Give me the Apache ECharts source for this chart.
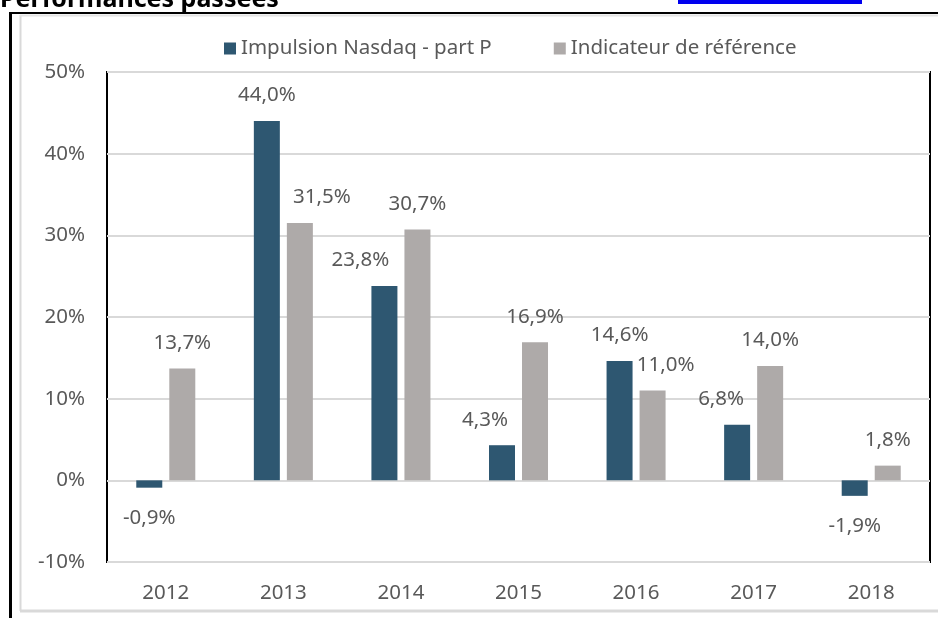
<!DOCTYPE html>
<html>
<head>
<meta charset="utf-8">
<title>Performances passées</title>
<script src="https://cdn.jsdelivr.net/npm/echarts@6/dist/echarts.min.js"></script>
<style>
  html, body { margin: 0; padding: 0; background: #fff; }
  #chart { width: 938px; height: 618px; }
</style>
</head>
<body>
<div id="chart"></div>
<script>
// valeurs (en %)
const years = ["2012", "2013", "2014", "2015", "2016", "2017", "2018"];
const impulsionP = [-0.9, 44.0, 23.8, 4.3, 14.6, 6.8, -1.9];
const indicateur = [13.7, 31.5, 30.7, 16.9, 11.0, 14.0, 1.8];
const yTicks = [-10, 0, 10, 20, 30, 40, 50];

// petits décalages horizontaux des étiquettes (déplacées à la main dans l'original)
const nudgeP = [0, 0, -24, -17, 0, -16, 0];
const nudgeRef = [0, 22, 0, 0, 13, 0, 0];

const FONT = "Noto Sans";
const TXT = "#595959";
const FS = 20.5;

function pct(v) {
  return v.toFixed(1).replace(".", ",") + "%";
}

function items(values, nudge) {
  return values.map((v, i) => ({
    value: v,
    label: {
      position: v < 0 ? "bottom" : "top",
      distance: v < 0 ? 20 : 15,
      offset: [nudge[i], 0],
    },
  }));
}

const chart = echarts.init(document.getElementById("chart"));

const option = {
  animation: false,
  textStyle: { fontFamily: FONT },
  graphic: [
    // cadre noir de la page
    { type: "line", shape: { x1: 10, y1: 13, x2: 938, y2: 13 }, style: { stroke: "#000", lineWidth: 2 } },
    { type: "line", shape: { x1: 10.5, y1: 12, x2: 10.5, y2: 618 }, style: { stroke: "#000", lineWidth: 3 } },
    // bordure grise de la zone du graphique
    { type: "line", shape: { x1: 20.5, y1: 15, x2: 20.5, y2: 611 }, style: { stroke: "#d9d9d9", lineWidth: 2 } },
    { type: "line", shape: { x1: 20, y1: 15.5, x2: 938, y2: 15.5 }, style: { stroke: "#e4e4e4", lineWidth: 2 } },
    { type: "line", shape: { x1: 20, y1: 611, x2: 938, y2: 611 }, style: { stroke: "#d9d9d9", lineWidth: 3 } },
    // titre coupé en haut
    {
      type: "text",
      left: 0,
      top: -13,
      style: {
        text: "Performances passées",
        font: "bold 25px '" + FONT + "'",
        fill: "#000",
      },
    },
    // lien bleu coupé
    { type: "rect", shape: { x: 678, y: 0, width: 184, height: 4 }, style: { fill: "#0000ee" } },
  ],
  legend: {
    left: 224,
    top: 38,
    padding: 0,
    icon: "rect",
    itemWidth: 12,
    itemHeight: 12,
    itemGap: 62,
    textStyle: { color: TXT, fontSize: FS, fontFamily: FONT },
  },
  grid: {
    left: 107,
    right: 8,
    top: 72,
    bottom: 56,
    show: true,
    borderColor: "#000",
    borderWidth: 2,
    backgroundColor: "transparent",
  },
  xAxis: {
    type: "category",
    data: years,
    axisLine: { show: false, onZero: false },
    axisTick: { show: false },
    axisLabel: { color: TXT, fontSize: FS, fontFamily: FONT, margin: 21 },
  },
  yAxis: {
    type: "value",
    min: yTicks[0],
    max: yTicks[yTicks.length - 1],
    interval: 10,
    axisLine: { show: false },
    axisTick: { show: false },
    axisLabel: {
      color: TXT,
      fontSize: FS,
      fontFamily: FONT,
      margin: 22,
      formatter: (v) => v + "%",
    },
    splitLine: { lineStyle: { color: "#d9d9d9", width: 2 } },
  },
  series: [
    {
      name: "Impulsion Nasdaq - part P",
      type: "bar",
      barWidth: 26,
      barGap: "27%",
      itemStyle: { color: "#2e5771" },
      label: {
        show: true,
        color: TXT,
        fontSize: FS,
        fontFamily: FONT,
        formatter: (p) => pct(p.value),
      },
      data: items(impulsionP, nudgeP),
    },
    {
      name: "Indicateur de référence",
      type: "bar",
      barWidth: 26,
      itemStyle: { color: "#aeaaa9" },
      label: {
        show: true,
        color: TXT,
        fontSize: FS,
        fontFamily: FONT,
        formatter: (p) => pct(p.value),
      },
      data: items(indicateur, nudgeRef),
    },
  ],
};

chart.setOption(option);
</script>
</body>
</html>
